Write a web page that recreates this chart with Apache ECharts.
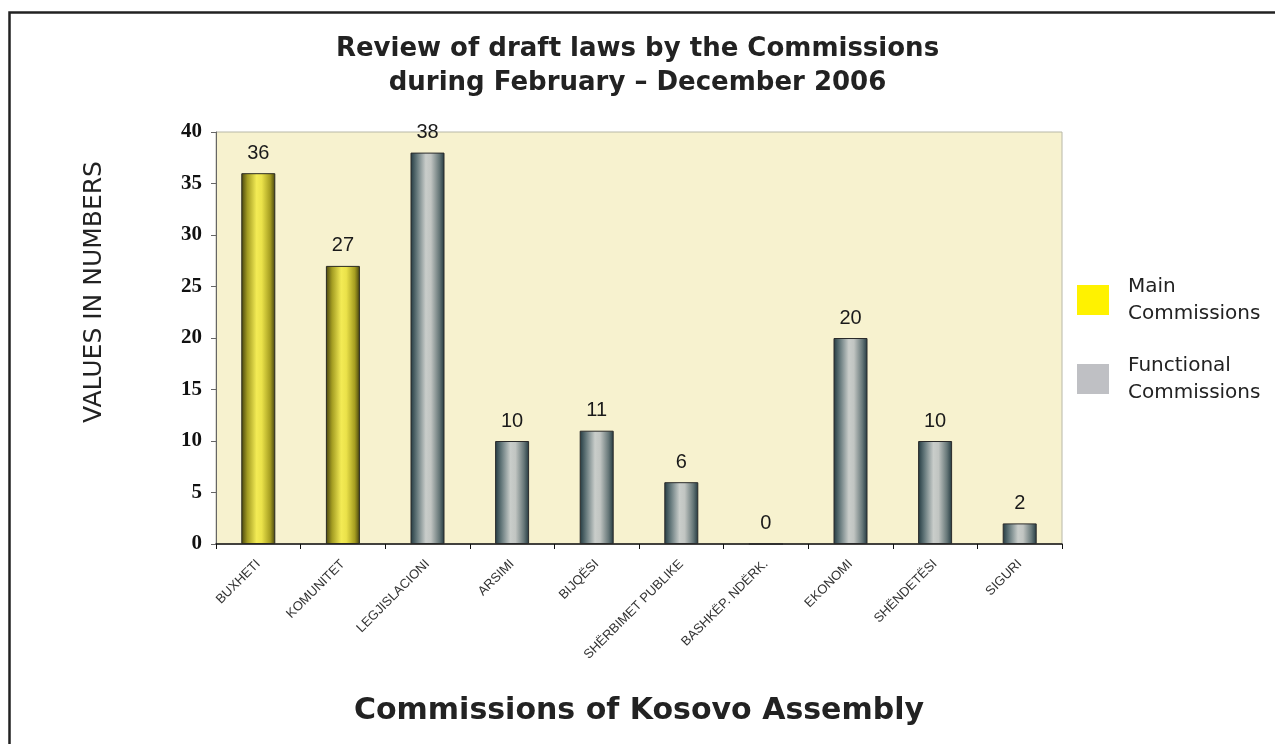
<!DOCTYPE html>
<html><head><meta charset="utf-8">
<script src="https://cdn.jsdelivr.net/npm/echarts@6/dist/echarts.min.js"></script>
<style>html,body{margin:0;padding:0;background:#fff}#c{width:1275px;height:744px}</style>
</head><body><div id="c"></div>
<script>
const categories = ["BUXHETI","KOMUNITET","LEGJISLACIONI","ARSIMI","BIJQËSI","SHËRBIMET PUBLIKE","BASHKËP. NDËRK.","EKONOMI","SHËNDETËSI","SIGURI"];
const mainValues = [36, 27, '-', '-', '-', '-', '-', '-', '-', '-'];
const functionalValues = ['-', '-', 38, 10, 11, 6, 0, 20, 10, 2];
const yTicks = [0, 5, 10, 15, 20, 25, 30, 35, 40];
const seriesNames = ["Main\nCommissions", "Functional\nCommissions"];
const titleText = 'Review of draft laws by the Commissions\nduring February – December 2006';
const yAxisTitle = 'VALUES IN NUMBERS';
const xAxisTitle = 'Commissions of Kosovo Assembly';

const yellowGrad = new echarts.graphic.LinearGradient(0,0,1,0,[
  {offset:0,color:'#46420e'},{offset:0.18,color:'#a39c22'},{offset:0.45,color:'#f3eb55'},
  {offset:0.6,color:'#ebe24a'},{offset:0.85,color:'#a59d20'},{offset:1,color:'#44400e'}]);
const grayGrad = new echarts.graphic.LinearGradient(0,0,1,0,[
  {offset:0,color:'#223940'},{offset:0.18,color:'#627679'},{offset:0.45,color:'#c9cdca'},
  {offset:0.6,color:'#c1c5c2'},{offset:0.85,color:'#667778'},{offset:1,color:'#22383f'}]);

const labelStyle = {show:true, position:'top', distance:10, fontSize:20, color:'#1a1a1a',
  fontFamily:'Liberation Sans', formatter: p => p.value};

const chart = echarts.init(document.getElementById('c'), null, {renderer:'canvas'});
chart.setOption({
  backgroundColor:'#fff',
  animation:false,
  title:{
    text:titleText, left:'center', top:27,
    textStyle:{fontFamily:'DejaVu Sans', fontWeight:'bold', fontSize:26, lineHeight:34, color:'#222', align:'center'}
  },
  legend:{
    orient:'vertical', left:1072, top:268, itemWidth:32, itemHeight:30, itemGap:25,
    selectedMode:false,
    textStyle:{fontFamily:'DejaVu Sans', fontSize:20, lineHeight:27, color:'#222', padding:[0,0,0,14]},
    data:[{name:seriesNames[0], icon:'rect', itemStyle:{color:'#FFF200', borderWidth:0}},
          {name:seriesNames[1], icon:'rect', itemStyle:{color:'#BFC0C4', borderWidth:0}}]
  },
  grid:{left:216, right:213, top:132, bottom:200, show:true, backgroundColor:'#F7F2CF', borderColor:'#b8b8a8', borderWidth:1},
  xAxis:{
    type:'category', data:categories,
    name:xAxisTitle, nameLocation:'middle', nameGap:152,
    nameTextStyle:{fontFamily:'DejaVu Sans', fontWeight:'bold', fontSize:30, color:'#222'},
    axisLine:{lineStyle:{color:'#111', width:1.5}},
    axisTick:{show:true, length:5, lineStyle:{color:'#111'}},
    axisLabel:{rotate:45, fontSize:13, color:'#333', fontFamily:'Liberation Sans', margin:18, interval:0}
  },
  yAxis:{
    type:'value', min:yTicks[0], max:yTicks[yTicks.length-1], interval:5,
    axisLine:{show:true, lineStyle:{color:'#666'}},
    axisTick:{show:true, length:5, lineStyle:{color:'#666'}},
    splitLine:{show:false},
    axisLabel:{fontFamily:'Liberation Serif', fontWeight:'bold', fontSize:21, color:'#111', margin:14}
  },
  series:[
    {name:seriesNames[0], type:'bar', data:mainValues, barWidth:34, barGap:'-100%',
     itemStyle:{color:yellowGrad, borderColor:'#2a2a20', borderWidth:1}, label:labelStyle},
    {name:seriesNames[1], type:'bar', data:functionalValues, barWidth:34,
     itemStyle:{color:grayGrad, borderColor:'#2a2a2a', borderWidth:1}, label:labelStyle}
  ],
  graphic:[
    {type:'rect', left:7, top:10, shape:{x:0,y:0,width:1400,height:900}, style:{fill:'none', stroke:'#222', lineWidth:2.5}, z:100},
    {type:'text', x:94, y:292, rotation:Math.PI/2, style:{text:yAxisTitle, fontFamily:'DejaVu Sans', fontSize:25, fill:'#222', align:'center', verticalAlign:'middle'}}
  ]
});
</script></body></html>
